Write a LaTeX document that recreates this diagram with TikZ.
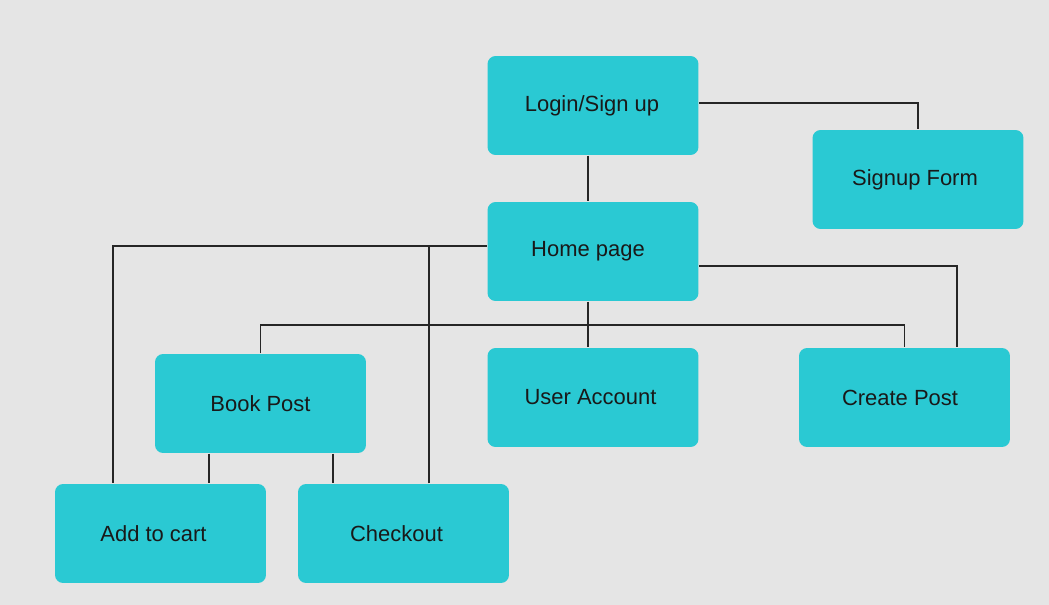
\documentclass[tikz,border=0pt]{standalone}
\usepackage{fontspec}
\setmainfont{Liberation Sans}
\usetikzlibrary{arrows}
\definecolor{bgGray}{HTML}{E5E5E5}
\definecolor{boxCyan}{HTML}{2AC9D3}

\begin{document}
\begin{tikzpicture}[x=0.02cm,y=-0.02cm,-,thick,
  main node/.style={rectangle,rounded corners=0.16cm,fill=boxCyan,draw=none,
    minimum width=4.22cm,minimum height=1.98cm,inner sep=0pt,
    font=\fontsize{12.5}{15}\selectfont,text=black!90},
  link/.style={draw=black!85,line width=0.6pt}]

  \fill[bgGray] (0,0) rectangle (1049,605);
  \useasboundingbox (0,0) rectangle (1049,605);

  \node[main node] (login) at (593,105.5) {\kern-0.04cm Login/Sign up};
  \node[main node] (signup) at (918,179.5) {\kern-0.12cm Signup Form};
  \node[main node] (home) at (593,251.5) {\kern-0.2cm Home page};
  \node[main node] (book) at (260.5,403.5) {Book Post};
  \node[main node] (user) at (593,397.5) {\kern-0.1cm User Account};
  \node[main node] (create) at (904.5,397.5) {\kern-0.18cm Create Post};
  \node[main node] (cart) at (160.5,533.5) {\kern-0.28cm Add to cart};
  \node[main node] (checkout) at (403.5,533.5) {\kern-0.28cm Checkout};
  \coordinate (bus) at (588,325);

  \draw[link] ([yshift=0.05cm]login.east) -| (signup.north);
  \draw[link] ([xshift=-0.1cm]login.south) -- ([xshift=-0.1cm]home.north);
  \draw[link] ([yshift=0.11cm]home.west) -| ([xshift=-0.95cm]cart.north);
  \draw[link] ([xshift=0.51cm]checkout.north) |- ([yshift=0.11cm]home.west);
  \draw[link] ([yshift=-0.29cm]home.east) -| ([xshift=1.05cm]create.north);
  \draw[link] ([xshift=-0.1cm]home.south) -- ([xshift=-0.1cm]user.north);
  \draw[link] (book.north) |- (bus) -| (create.north);
  \draw[link] ([xshift=-1.03cm]book.south) -- ([xshift=-1.03cm]book.south |- cart.north);
  \draw[link] ([xshift=1.45cm]book.south) -- ([xshift=1.45cm]book.south |- checkout.north);

\end{tikzpicture}
\end{document}
